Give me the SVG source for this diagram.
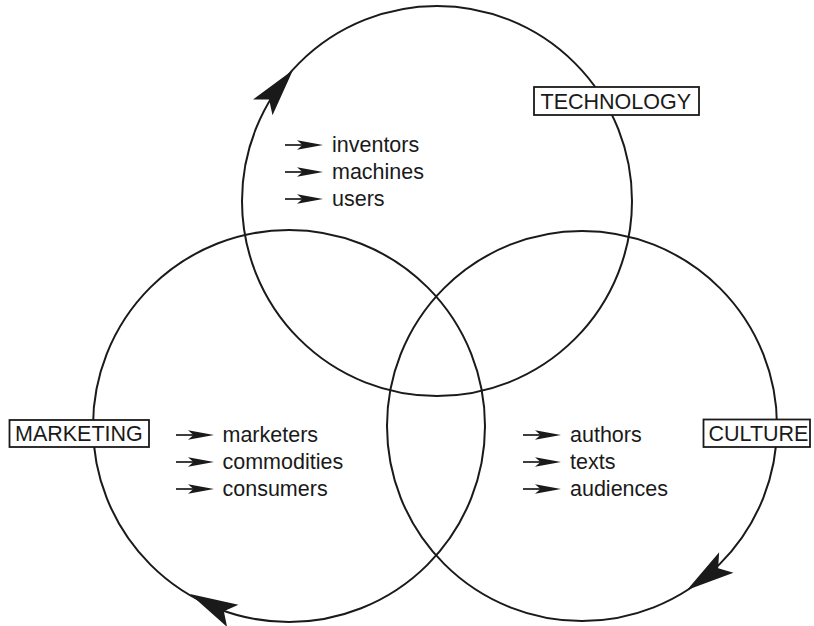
<svg xmlns="http://www.w3.org/2000/svg" xmlns:xlink="http://www.w3.org/1999/xlink" width="814" height="626" viewBox="0 0 814 626">
  <style>
    .ring { fill: none; stroke: #1a1a1a; stroke-width: 2; }
    .box { fill: #fff; stroke: #1a1a1a; stroke-width: 1.8; }
    .label { font-family: "Liberation Sans", Arial, sans-serif; font-size: 21.5px; fill: #1a1a1a; }
    .item { font-family: "Liberation Sans", Arial, sans-serif; font-size: 21.5px; fill: #1a1a1a; }
    .head { fill: #1a1a1a; stroke: none; }
  </style>
  <defs>
    <!-- small bullet arrow: shaft plus barbed head, tip at (38,0) -->
    <g id="bullet">
      <line x1="0" y1="0" x2="22" y2="0" stroke="#1a1a1a" stroke-width="1.7"/>
      <path class="head" d="M38,0 L12,-4.8 L17.5,0 L12,4.8 Z"/>
    </g>
    <!-- large barbed arrowhead on the rings, tip at origin pointing +x -->
    <path id="bighead" class="head" d="M0,0 L-48,-12.5 L-38,0 L-48,12.5 Z"/>
  </defs>

  <g id="connectors">
    <circle class="ring" cx="437" cy="201" r="195"/>
    <circle class="ring" cx="289" cy="426" r="196"/>
    <circle class="ring" cx="582" cy="426" r="195"/>
    <use xlink:href="#bighead" transform="translate(293,70) rotate(-51)"/>
    <use xlink:href="#bighead" transform="translate(687,590) rotate(145)"/>
    <use xlink:href="#bighead" transform="translate(190,594) rotate(-153)"/>
  </g>

  <g id="technology">
    <rect class="box" x="534" y="87" width="165" height="28"/>
    <text class="label" x="540.5" y="109.3">TECHNOLOGY</text>
    <use xlink:href="#bullet" transform="translate(285,145)"/>
    <use xlink:href="#bullet" transform="translate(285,172)"/>
    <use xlink:href="#bullet" transform="translate(285,199)"/>
    <text class="item" x="332" y="152">inventors</text>
    <text class="item" x="332" y="179">machines</text>
    <text class="item" x="332" y="206">users</text>
  </g>

  <g id="marketing">
    <rect class="box" x="9.5" y="420" width="139.5" height="27"/>
    <text class="label" x="15" y="441">MARKETING</text>
    <use xlink:href="#bullet" transform="translate(176,435)"/>
    <use xlink:href="#bullet" transform="translate(176,462)"/>
    <use xlink:href="#bullet" transform="translate(176,489)"/>
    <text class="item" x="222.5" y="442">marketers</text>
    <text class="item" x="222.5" y="469">commodities</text>
    <text class="item" x="222.5" y="496">consumers</text>
  </g>

  <g id="culture">
    <rect class="box" x="703.5" y="419.5" width="106.5" height="27.5"/>
    <text class="label" x="708.5" y="441">CULTURE</text>
    <use xlink:href="#bullet" transform="translate(523,435)"/>
    <use xlink:href="#bullet" transform="translate(523,462)"/>
    <use xlink:href="#bullet" transform="translate(523,489)"/>
    <text class="item" x="570" y="442">authors</text>
    <text class="item" x="570" y="469">texts</text>
    <text class="item" x="570" y="496">audiences</text>
  </g>
</svg>
